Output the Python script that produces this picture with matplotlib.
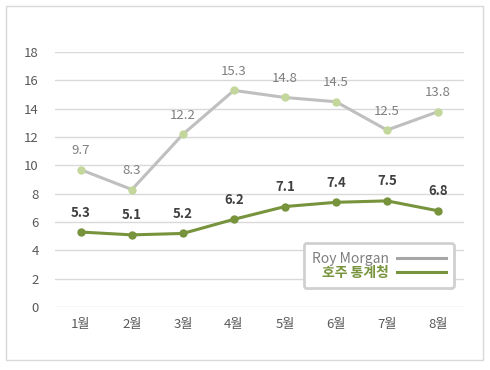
import matplotlib
matplotlib.use("Agg")
import matplotlib.pyplot as plt
from matplotlib.patches import Rectangle

months = ["1월", "2월", "3월", "4월", "5월", "6월", "7월", "8월"]
roy_morgan = [9.7, 8.3, 12.2, 15.3, 14.8, 14.5, 12.5, 13.8]
abs_vals = [5.3, 5.1, 5.2, 6.2, 7.1, 7.4, 7.5, 6.8]
yticks = [0, 2, 4, 6, 8, 10, 12, 14, 16, 18]

plt.rcParams['font.family'] = ['Noto Sans CJK KR', 'DejaVu Sans']

fig = plt.figure(figsize=(4.9, 3.7), dpi=100)
fig.patches.append(Rectangle((6/490, 10/370), 477/490, 354/370, transform=fig.transFigure,
                             fill=False, edgecolor='#D9D9D9', lw=1))
ax = fig.add_axes([0.113, 0.170, 0.833, 0.689])

x = list(range(len(months)))
gray_line = '#BFBFBF'
gray_mk = '#C3D69B'
green = '#77933C'

ax.plot(x, roy_morgan, color=gray_line, lw=2.2, marker='o', ms=5,
        mfc=gray_mk, mec=gray_mk, label='Roy Morgan', zorder=3)
ax.plot(x, abs_vals, color=green, lw=2.2, marker='o', ms=5,
        mfc=green, mec=green, label='호주 통계청', zorder=3)

for xi, v in zip(x, roy_morgan):
    ax.annotate(f"{v}", (xi, v), xytext=(0, 9), textcoords='offset points',
                ha='center', va='bottom', fontsize=9.5, color='#7F7F7F')
for xi, v in zip(x, abs_vals):
    ax.annotate(f"{v}", (xi, v), xytext=(0, 9), textcoords='offset points',
                ha='center', va='bottom', fontsize=9.5, color='#404040', fontweight='bold')

ax.set_xlim(-0.5, len(months) - 0.5)
ax.set_ylim(0, 18)
ax.set_yticks(yticks)
ax.set_xticks(x)
ax.set_xticklabels(months)
ax.grid(axis='y', color='#D9D9D9', lw=1)
ax.set_axisbelow(True)
for s in ax.spines.values():
    s.set_visible(False)
ax.tick_params(length=0, labelsize=9.5, colors='#595959')
ax.tick_params(axis='x', pad=8)
ax.tick_params(axis='y', pad=12)

leg = ax.legend(loc='lower right', bbox_to_anchor=(0.994, 0.048), markerfirst=False,
                frameon=True, fancybox=True, fontsize=10, handlelength=3.5,
                handletextpad=0.6, borderpad=0.6, labelspacing=0.0)
for line in leg.get_lines():
    line.set_marker('')
leg.get_lines()[0].set_color('#A6A6A6')
fr = leg.get_frame()
fr.set_edgecolor('#D0D0D0')
fr.set_linewidth(2)
fr.set_facecolor('white')
fr.set_alpha(1)
texts = leg.get_texts()
texts[0].set_color('#7F7F7F')
texts[1].set_color(green)
texts[1].set_fontweight('bold')

fig.savefig('out.png', dpi=100)
